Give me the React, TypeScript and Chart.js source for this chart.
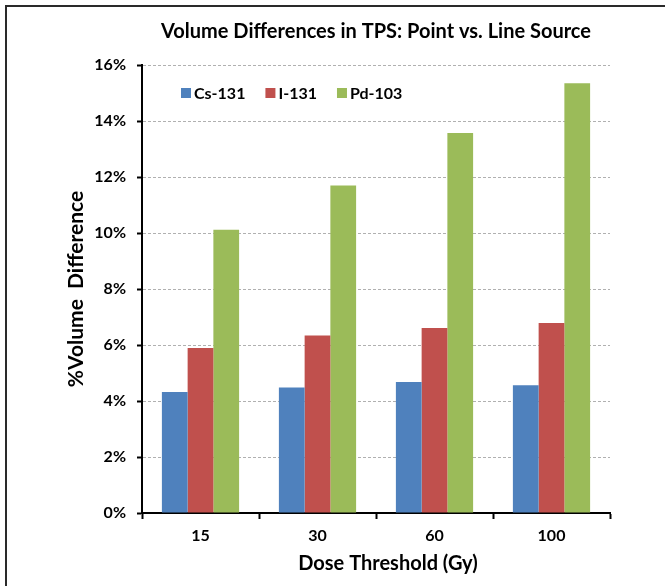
import React, { useEffect, useRef } from "react";
import { Chart, registerables } from "chart.js";

Chart.register(...registerables);

const chartTitle = "Volume Differences in TPS: Point vs. Line Source";
const xAxisTitle = "Dose Threshold (Gy)";
const yAxisTitle = "%Volume  Difference";
const categories = ["15", "30", "60", "100"];
const seriesNames = ["Cs-131", "I-131", "Pd-103"];
const cs131 = [4.32, 4.48, 4.68, 4.56];
const i131 = [5.89, 6.34, 6.61, 6.79];
const pd103 = [10.12, 11.7, 13.57, 15.35];
const seriesColors = ["#4F81BD", "#C0504D", "#9BBB59"];
const yMin = 0;
const yMax = 16;
const yStep = 2;

const FONT = "Lato";

const framePlugin = {
  id: "frame",
  beforeDraw(chart: any) {
    const { ctx, width, height } = chart;
    ctx.save();
    ctx.fillStyle = "#ffffff";
    ctx.fillRect(0, 0, width, height);
    ctx.fillStyle = "#2a2a2a";
    ctx.fillRect(5, 5, width - 5, 2);
    ctx.fillRect(5, 5, 2, height - 5);
    ctx.restore();
  },
};

const insideLegendPlugin = {
  id: "insideLegend",
  afterDraw(chart: any) {
    const { ctx, chartArea } = chart;
    ctx.save();
    ctx.font = `bold 16px ${FONT}`;
    ctx.textBaseline = "middle";
    ctx.textAlign = "left";
    let x = chartArea.left + 39;
    const y = chartArea.top + 28;
    chart.data.datasets.forEach((ds: any) => {
      ctx.fillStyle = ds.backgroundColor;
      ctx.fillRect(x, y - 5, 10, 10);
      ctx.fillStyle = "#000";
      ctx.fillText(ds.label, x + 13, y + 1);
      x += 13 + ctx.measureText(ds.label).width + 20;
    });
    ctx.restore();
  },
};

const xTitlePlugin = {
  id: "xTitle",
  afterDraw(chart: any) {
    const { ctx, chartArea } = chart;
    ctx.save();
    ctx.font = `bold 20px ${FONT}`;
    ctx.fillStyle = "#000";
    ctx.textAlign = "center";
    ctx.textBaseline = "middle";
    ctx.fillText(xAxisTitle, (chartArea.left + chartArea.right) / 2 + 12, chartArea.bottom + 51);
    ctx.restore();
  },
};

export default function App() {
  const ref = useRef<HTMLCanvasElement | null>(null);

  useEffect(() => {
    if (!ref.current) return;
    const seriesValues = [cs131, i131, pd103];
    const chart = new Chart(ref.current, {
      type: "bar",
      data: {
        labels: categories,
        datasets: seriesNames.map((name, i) => ({
          label: name,
          data: seriesValues[i],
          backgroundColor: seriesColors[i],
          borderWidth: 0,
          categoryPercentage: 0.66,
          barPercentage: 1.0,
        })),
      },
      options: {
        animation: false,
        responsive: false,
        devicePixelRatio: 1,
        layout: { padding: { left: 60, right: 55, top: 0, bottom: 0 } },
        plugins: {
          legend: { display: false },
          tooltip: { enabled: false },
          title: {
            display: true,
            text: chartTitle,
            fullSize: false,
            color: "#000",
            font: { family: FONT, size: 20, weight: "bold" },
            padding: { top: 20, bottom: 21 },
          },
        },
        scales: {
          x: {
            grid: {
              drawOnChartArea: false,
              drawTicks: true,
              tickLength: 6,
              tickColor: "#000",
              tickWidth: 2,
              offset: true,
            },
            border: { color: "#000", width: 2 },
            ticks: {
              color: "#000",
              font: { family: FONT, size: 16, weight: "bold" },
              padding: 7,
            },
            title: { display: false },
            afterFit: (s: any) => {
              s.height = 73;
            },
          },
          y: {
            min: yMin,
            max: yMax,
            grid: {
              color: "#b0b0b0",
              lineWidth: 1,
              tickColor: "#000",
              tickLength: 5,
              tickWidth: 2,
              tickBorderDash: [],
            },
            border: { color: "#000", width: 2, dash: [3, 2] },
            ticks: {
              stepSize: yStep,
              color: "#000",
              font: { family: FONT, size: 16, weight: "bold" },
              padding: 11,
              callback: (v: any) => `${v}%`,
            },
            title: {
              display: true,
              text: yAxisTitle,
              color: "#000",
              font: { family: FONT, size: 21, weight: "bold" },
              padding: { top: 4, bottom: 0 },
            },
            afterFit: (s: any) => {
              s.width = 82;
            },
          },
        },
      },
      plugins: [framePlugin, insideLegendPlugin, xTitlePlugin],
    } as any);
    return () => chart.destroy();
  }, []);

  return (
    <div style={{ position: "absolute", left: 0, top: 0, width: 665, height: 586 }}>
      <canvas ref={ref} width={665} height={586} style={{ display: "block" }} />
    </div>
  );
}
